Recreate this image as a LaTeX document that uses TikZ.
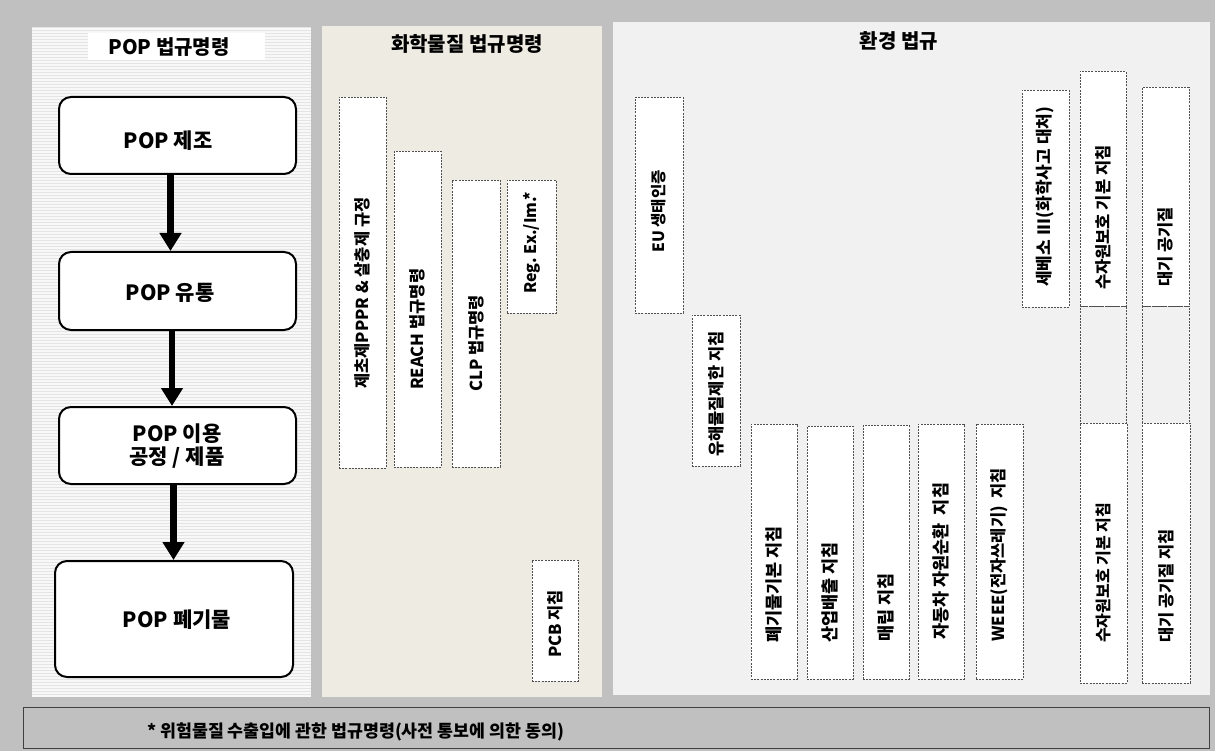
\documentclass[tikz,border=0pt]{standalone}
\usepackage{fontspec}
\setmainfont{Noto Sans CJK KR}
\usetikzlibrary{arrows.meta}
\definecolor{bgc}{HTML}{C0C0C0}
\definecolor{leftc}{HTML}{F8F8F8}
\definecolor{stripec}{HTML}{E4E4E4}
\definecolor{midc}{HTML}{EEEBE2}
\definecolor{rightc}{HTML}{F1F1F1}
\definecolor{dashc}{HTML}{505050}
\definecolor{barline}{HTML}{404040}
\frenchspacing
\begin{document}
\begin{tikzpicture}[x=1pt,y=-1pt,
  popbox/.style={draw=black, line width=2pt, rounded corners=12pt, fill=white, inner sep=0pt},
  poptext/.style={font=\fontsize{21}{23}\selectfont\bfseries, align=center, inner sep=0pt},
  vbox/.style={draw=dashc, dash pattern=on 2pt off 1.2pt, line width=0.8pt, fill=white, inner sep=0pt},
  gapbox/.style={draw=dashc, dash pattern=on 2pt off 1.2pt, line width=0.8pt, inner sep=0pt},
  vlab/.style={rotate=90, anchor=west, font=\fontsize{16.5}{19}\selectfont\bfseries, inner sep=0pt},
  vlabw/.style={vlab, font=\fontsize{17.5}{20}\selectfont\bfseries},
  ttl/.style={font=\fontsize{20}{24}\selectfont\bfseries, inner sep=0pt},
  arr/.style={line width=6.5pt, -{Triangle[width=21pt,length=18pt]}},
  notebar/.style={draw=barline, line width=1pt, fill=bgc, inner sep=0pt},
  notetext/.style={font=\fontsize{17.3}{20}\selectfont\bfseries, inner sep=0pt}
]
\useasboundingbox (0,0) rectangle (1215,751);
\fill[bgc] (0,0) rectangle (1215,751);

% panels
\fill[leftc] (32,27) rectangle (311,697);
\foreach \yy in {28,31,...,696} \draw[stripec, line width=1pt] (32,\yy) -- (311,\yy);
\fill[midc] (322,26) rectangle (602,697);
\fill[rightc] (613,22) rectangle (1210,695);

% left panel
\fill[white] (88,33) rectangle (265,60);
\node[ttl] (t1) at (169,47) {POP 법규명령};
\node[popbox, minimum width=237pt, minimum height=77pt] (b1) at (177.5,135.5) {};
\node[poptext] (b1t) at (168,141) {POP 제조};
\node[popbox, minimum width=237pt, minimum height=78pt] (b2) at (177.5,291) {};
\node[poptext] (b2t) at (170,293) {POP 유통};
\node[popbox, minimum width=237pt, minimum height=77pt] (b3) at (177.5,445.5) {};
\node[poptext] (b3t) at (177,446) {POP 이용\\공정 / 제품};
\node[popbox, minimum width=238pt, minimum height=116pt] (b4) at (174,619) {};
\node[poptext] (b4t) at (177,620) {POP 폐기물};
\draw[arr] ([xshift=-7pt]b1.south) -- ([xshift=-7pt]b2.north);
\draw[arr] ([xshift=-5.5pt]b2.south) -- ([xshift=-5.5pt]b3.north);
\draw[arr] ([xshift=-4pt]b3.south) -- ([xshift=-0.5pt]b4.north);

% middle panel
\node[ttl] (t2) at (467,44) {화학물질 법규명령};
\node[vbox, minimum width=47pt, minimum height=371pt] (m1) at (362.5,282.5) {};
\node[vlab] (m1t) at (362.5,389) {제초제PPPR \& 살충제 규정};
\node[vbox, minimum width=47pt, minimum height=316pt] (m2) at (417.5,309) {};
\node[vlab] (m2t) at (417.5,390) {REACH 법규명령};
\node[vbox, minimum width=48pt, minimum height=287pt] (m3) at (476,323.5) {};
\node[vlab] (m3t) at (476,392) {CLP 법규명령};
\node[vbox, minimum width=49pt, minimum height=133pt] (m4) at (531.5,246.5) {};
\node[vlab, font=\fontsize{16}{18}\selectfont\bfseries] (m4t) at (531.5,294) {Reg. Ex./Im.*};
\node[vbox, minimum width=46pt, minimum height=121pt] (m5) at (555,620.5) {};
\node[vlab] (m5t) at (555,658) {PCB 지침};

% right panel
\node[ttl] (t3) at (899,41) {환경 법규};
\node[vbox, minimum width=48pt, minimum height=216pt] (r1) at (659,205) {};
\node[vlab, font=\fontsize{15.6}{18}\selectfont\bfseries] (r1t) at (659,253) {EU 생태인증};
\node[vbox, minimum width=48pt, minimum height=151pt] (r2) at (716,390.5) {};
\node[vlab] (r2t) at (716,457) {유해물질제한 지침};
\node[vbox, minimum width=46pt, minimum height=255pt] (r3) at (774,551.5) {};
\node[vlabw] (r3t) at (774,643) {폐기물기본 지침};
\node[vbox, minimum width=46pt, minimum height=253pt] (r4) at (830,552.5) {};
\node[vlabw] (r4t) at (830,643) {산업배출 지침};
\node[vbox, minimum width=46pt, minimum height=254pt] (r5) at (886,552) {};
\node[vlabw] (r5t) at (886,642) {매립 지침};
\node[vbox, minimum width=46pt, minimum height=255pt] (r6) at (941,551.5) {};
\node[vlabw] (r6t) at (941,640) {자동차 자원순환\ \ 지침};
\node[vbox, minimum width=47pt, minimum height=255pt] (r7) at (999.5,551.5) {};
\node[vlab] (r7t) at (999.5,642) {WEEE(전자쓰레기)\ \ 지침};
\node[vbox, minimum width=47pt, minimum height=217pt] (r8) at (1045.5,198.5) {};
\node[vlab, font=\fontsize{17}{20}\selectfont\bfseries] (r8t) at (1045.5,287) {세베소 III(화학사고 대처)};
\node[gapbox, minimum width=46pt, minimum height=117pt] (g1) at (1103,364.5) {};
\node[gapbox, minimum width=47pt, minimum height=117pt] (g2) at (1165.5,364.5) {};
\node[vbox, minimum width=46pt, minimum height=235pt] (r9) at (1103,188.5) {};
\node[vlab] (r9t) at (1103,290) {수자원보호 기본 지침};
\node[vbox, minimum width=47pt, minimum height=219pt] (r10) at (1165.5,196.5) {};
\node[vlab] (r10t) at (1165.5,287) {대기 공기질};
\node[vbox, minimum width=47pt, minimum height=260pt] (r11) at (1103.5,553) {};
\node[vlab, font=\fontsize{16}{19}\selectfont\bfseries] (r11t) at (1103.5,643) {수자원보호 기본 지침};
\node[vbox, minimum width=48pt, minimum height=260pt] (r12) at (1166,553) {};
\node[vlab] (r12t) at (1166,643) {대기 공기질 지침};

% bottom note
\node[notebar, minimum width=1186pt, minimum height=41pt] (nb) at (616,727.5) {};
\node[notetext, anchor=west] (nt) at (147,732) {* 위험물질 수출입에 관한 법규명령(사전 통보에 의한 동의)};
\end{tikzpicture}
\end{document}
